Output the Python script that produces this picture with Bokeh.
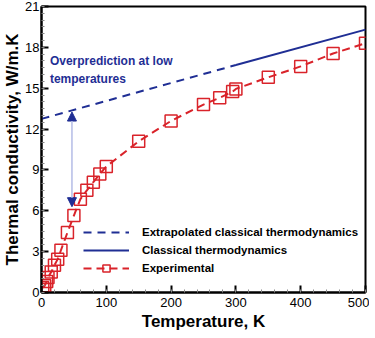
from bokeh.plotting import figure
from bokeh.embed import file_html
from bokeh.resources import INLINE
from bokeh.models import (Legend, LegendItem, Label, Arrow, NormalHead,
                          FixedTicker, Range1d)

# ---- data ----
T_exp = [2, 5, 8, 10, 15, 20, 25, 30, 40, 50, 60, 70, 80, 90, 100,
         150, 200, 250, 275, 295, 300, 350, 400, 450, 500]
k_exp = [0.35, 0.5, 0.8, 1.1, 1.5, 2.0, 2.45, 3.1, 4.4, 5.65, 6.85, 7.5, 8.1, 8.7, 9.25,
         11.1, 12.6, 13.8, 14.3, 14.75, 14.95, 15.8, 16.6, 17.55, 18.3]
T_extrap = [0, 300]
k_extrap = [12.75, 16.7]
T_class = [300, 500]
k_class = [16.7, 19.3]
arrow_T = 47
arrow_k = [13.25, 6.3]
x_ticks = [0, 100, 200, 300, 400, 500]
y_ticks = [0, 3, 6, 9, 12, 15, 18, 21]

RED = "#d9232a"
BLUE = "#1f2e94"
FONT = "Liberation Sans"

p = figure(frame_width=324, frame_height=286, output_backend="svg", toolbar_location=None,
           x_range=Range1d(0, 500), y_range=Range1d(0, 21),
           min_border_left=0, min_border_right=4, min_border_top=6, min_border_bottom=0)
p.grid.visible = False
p.outline_line_color = "black"
p.outline_line_width = 2
p.background_fill_color = "white"
p.border_fill_color = "white"

for ax in (p.xaxis[0], p.yaxis[0]):
    ax.axis_line_width = 2
    ax.axis_line_color = "black"
    ax.major_tick_in = 7
    ax.major_tick_out = 0
    ax.minor_tick_in = 3
    ax.minor_tick_out = 0
    ax.major_tick_line_width = 2
    ax.minor_tick_line_color = "#888888"
    ax.major_label_text_font = FONT
    ax.major_label_text_font_size = "13px"
    ax.major_label_text_color = "black"
    ax.axis_label_text_font = FONT
    ax.axis_label_text_font_style = "bold"
    ax.axis_label_text_font_size = "17px"
    ax.axis_label_text_color = "black"

p.yaxis[0].major_label_standoff = 2
p.yaxis[0].axis_label_standoff = 0
p.xaxis[0].major_label_standoff = 5
p.xaxis[0].axis_label_standoff = 2

p.xaxis[0].ticker = FixedTicker(ticks=x_ticks, minor_ticks=list(range(0, 501, 20)))
p.yaxis[0].ticker = FixedTicker(ticks=y_ticks, minor_ticks=[i * 0.5 for i in range(43)])
p.xaxis.axis_label = "Temperature, K"
p.yaxis.axis_label = "Thermal conductivity, W/m.K"

r_extrap = p.line(T_extrap, k_extrap, line_color=BLUE, line_width=2, line_dash="8 6")
r_class = p.line(T_class, k_class, line_color=BLUE, line_width=2)
r_exp_line = p.line(T_exp, k_exp, line_color=RED, line_width=2, line_dash="8 5")
r_exp_pts = p.scatter(T_exp, k_exp, marker="square", size=12, line_color=RED,
                      line_width=1.5, fill_color=None)

arrow = Arrow(x_start=arrow_T, y_start=arrow_k[1], x_end=arrow_T, y_end=arrow_k[0],
              line_color="#b4bce6", line_width=1.5,
              end=NormalHead(size=9, fill_color=BLUE, line_color=BLUE),
              start=NormalHead(size=9, fill_color=BLUE, line_color=BLUE))
p.add_layout(arrow)

p.add_layout(Label(x=13, y=17.0, text="Overprediction at low", text_font=FONT,
                   text_font_style="bold", text_font_size="12px", text_color=BLUE,
                   text_baseline="middle"))
p.add_layout(Label(x=13, y=15.65, text="temperatures", text_font=FONT,
                   text_font_style="bold", text_font_size="12px", text_color=BLUE,
                   text_baseline="middle"))

legend = Legend(items=[
    LegendItem(label="Extrapolated classical thermodynamics", renderers=[r_extrap]),
    LegendItem(label="Classical thermodynamics", renderers=[r_class]),
    LegendItem(label="Experimental", renderers=[r_exp_line, r_exp_pts]),
], location=(42, 15), orientation="vertical",
    label_text_font=FONT, label_text_font_style="bold", label_text_font_size="11.5px",
    label_text_color="black", glyph_width=46, glyph_height=18, label_height=18,
    spacing=0, padding=0, margin=0, label_standoff=13,
    border_line_color=None, background_fill_color=None, background_fill_alpha=0)
p.add_layout(legend)

open("out.html", "w").write(file_html(p, INLINE))
